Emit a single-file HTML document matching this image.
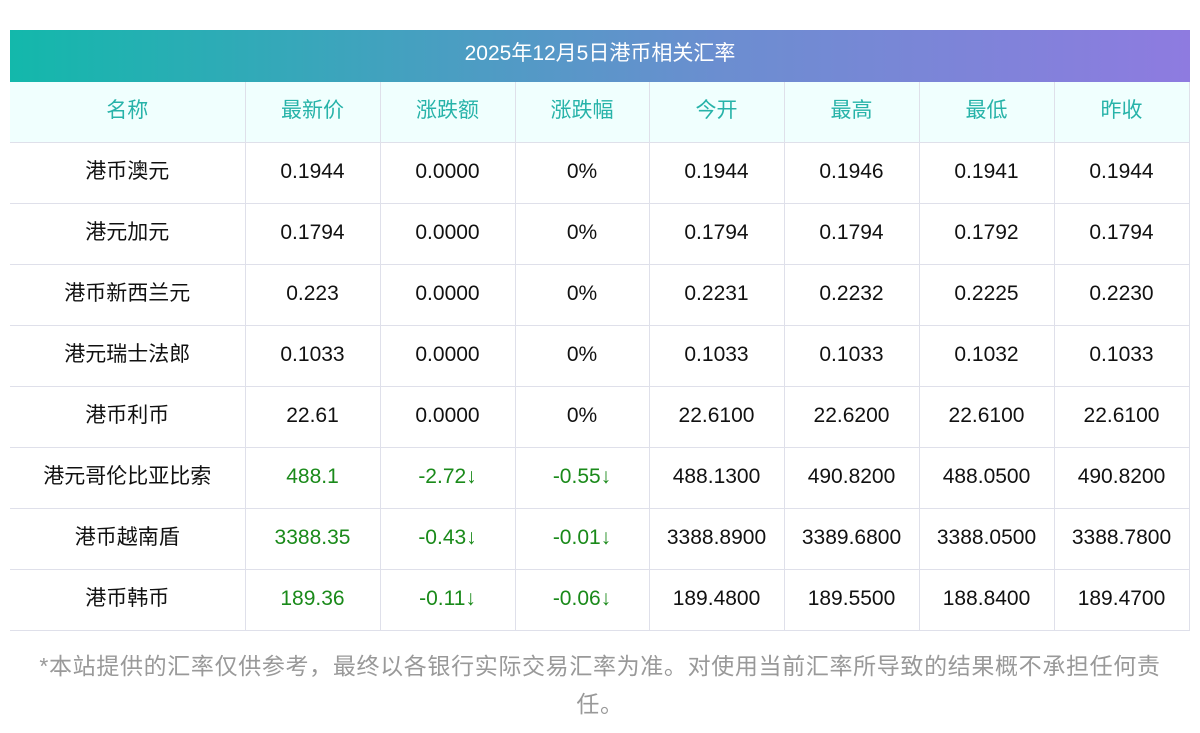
<!DOCTYPE html>
<html><head><meta charset="utf-8"><style>
body{margin:0;width:1200px;height:733px;background:#fff;font-family:"Liberation Sans","Noto Sans CJK SC",sans-serif;position:relative;overflow:hidden}
.hd{position:absolute;left:10px;top:30px;width:1180px;height:52px;background:linear-gradient(90deg,#13b8ab,#6b8ed0 60%,#8e7be0);color:#fff;font-size:21px;line-height:48px;text-align:center}
table{position:absolute;left:10px;top:82px;border-collapse:collapse;table-layout:fixed;width:1179px}
td{height:57px;border:1px solid #dfe0ea;text-align:center;font-size:21px;color:#111;padding:0 0 3px 0}
td.c{padding-bottom:6px;height:54px}
tr td:first-child{border-left:none}
tr:first-child td{border-top:none;background:#f0fffe;color:#27b3a9}
.g{color:#1a8a1a}
.ft{position:absolute;left:20px;width:1160px;top:647px;font-size:23px;letter-spacing:0.65px;line-height:38px;color:#999;text-align:center}
</style></head><body>
<div class="hd">2025年12月5日港币相关汇率</div>
<table>
<colgroup><col style="width:235px"><col style="width:135px"><col style="width:135px"><col style="width:134px"><col style="width:135px"><col style="width:135px"><col style="width:135px"><col style="width:135px"></colgroup>
<tr><td class="c">名称</td><td class="c">最新价</td><td class="c">涨跌额</td><td class="c">涨跌幅</td><td class="c">今开</td><td class="c">最高</td><td class="c">最低</td><td class="c">昨收</td></tr>
<tr><td class="c">港币澳元</td><td>0.1944</td><td>0.0000</td><td>0%</td><td>0.1944</td><td>0.1946</td><td>0.1941</td><td>0.1944</td></tr>
<tr><td class="c">港元加元</td><td>0.1794</td><td>0.0000</td><td>0%</td><td>0.1794</td><td>0.1794</td><td>0.1792</td><td>0.1794</td></tr>
<tr><td class="c">港币新西兰元</td><td>0.223</td><td>0.0000</td><td>0%</td><td>0.2231</td><td>0.2232</td><td>0.2225</td><td>0.2230</td></tr>
<tr><td class="c">港元瑞士法郎</td><td>0.1033</td><td>0.0000</td><td>0%</td><td>0.1033</td><td>0.1033</td><td>0.1032</td><td>0.1033</td></tr>
<tr><td class="c">港币利币</td><td>22.61</td><td>0.0000</td><td>0%</td><td>22.6100</td><td>22.6200</td><td>22.6100</td><td>22.6100</td></tr>
<tr><td class="c">港元哥伦比亚比索</td><td class="g">488.1</td><td class="g">-2.72↓</td><td class="g">-0.55↓</td><td>488.1300</td><td>490.8200</td><td>488.0500</td><td>490.8200</td></tr>
<tr><td class="c">港币越南盾</td><td class="g">3388.35</td><td class="g">-0.43↓</td><td class="g">-0.01↓</td><td>3388.8900</td><td>3389.6800</td><td>3388.0500</td><td>3388.7800</td></tr>
<tr><td class="c">港币韩币</td><td class="g">189.36</td><td class="g">-0.11↓</td><td class="g">-0.06↓</td><td>189.4800</td><td>189.5500</td><td>188.8400</td><td>189.4700</td></tr>
</table>
<div class="ft">*本站提供的汇率仅供参考，最终以各银行实际交易汇率为准。对使用当前汇率所导致的结果概不承担任何责任。</div>
</body></html>
